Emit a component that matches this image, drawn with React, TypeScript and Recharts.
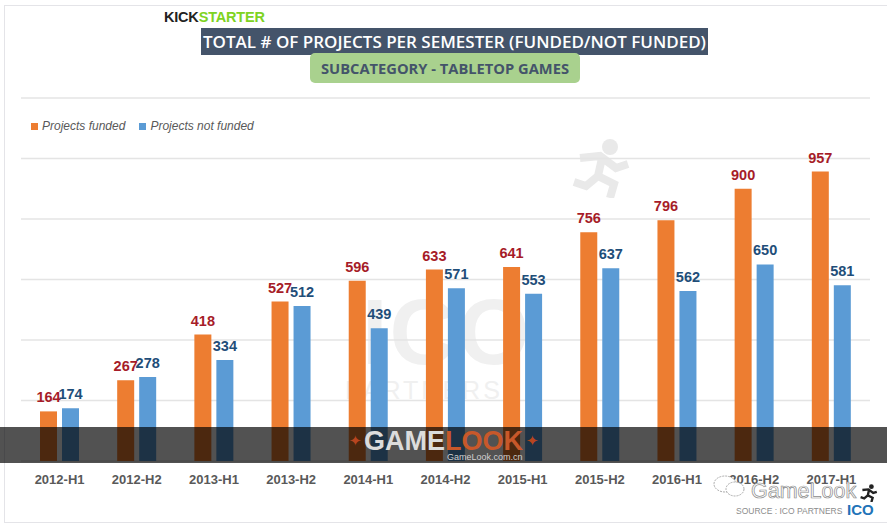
import { Bar, BarChart, CartesianGrid, LabelList, Legend, XAxis, YAxis } from "recharts"

const periods = ["2012-H1", "2012-H2", "2013-H1", "2013-H2", "2014-H1", "2014-H2", "2015-H1", "2015-H2", "2016-H1", "2016-H2", "2017-H1"]
const funded = [164, 267, 418, 527, 596, 633, 641, 756, 796, 900, 957]
const notFunded = [174, 278, 334, 512, 439, 571, 553, 637, 562, 650, 581]
const yTicks = [0, 200, 400, 600, 800, 1000, 1200]

const data = periods.map((period, i) => ({ period, funded: funded[i], notFunded: notFunded[i] }))

const sans = "'Liberation Sans', Arial, sans-serif"
const titleFont = "'Open Sans', 'Noto Sans', sans-serif"

function Runner({ x, y, size, color }: { x: number; y: number; size: number; color: string }) {
  return (
    <svg style={{ position: "absolute", left: x, top: y }} width={size} height={size} viewBox="0 0 60 60">
      <circle cx="38" cy="9" r="8" fill={color} />
      <path d="M8 20 L28 18 L44 30 L56 26 M30 20 L26 38 L42 46 L38 60 M26 38 L14 48 L2 44" fill="none" stroke={color} strokeWidth="8" />
    </svg>
  )
}

export default function App() {
  return (
    <div style={{ position: "absolute", left: 0, top: 0, width: 887, height: 525, background: "#fff", overflow: "hidden" }}>
      <div style={{ position: "absolute", left: 4, top: 5, width: 890, height: 516, border: "1px solid #e4e4e8" }} />

      {/* faint watermark behind the bars */}
      <Runner x={572} y={138} size={60} color="#e9e9e9" />
      <div style={{ position: "absolute", left: 362, top: 290, fontFamily: sans, fontWeight: 700, fontSize: 92, lineHeight: "84px", color: "#f0f0f0", letterSpacing: 2 }}>ICO</div>
      <div style={{ position: "absolute", left: 345, top: 376, fontFamily: sans, fontSize: 25, lineHeight: "28px", color: "#f0f0f0", letterSpacing: 3 }}>PARTNERS</div>

      <div style={{ position: "absolute", left: 0, top: 0 }}>
        <BarChart
          width={887}
          height={525}
          data={data}
          barSize={17}
          barGap={5}
          margin={{ top: 82, right: 17, bottom: 0, left: 21 }}
        >
          <CartesianGrid vertical={false} stroke="#e4e4e4" strokeWidth={1.5} />
          <XAxis
            dataKey="period"
            axisLine={false}
            tickLine={false}
            interval={0}
            height={64}
            tick={{ fill: "#595959", fontFamily: sans, fontSize: 13, fontWeight: 700 }}
            tickMargin={8}
          />
          <YAxis hide domain={[0, 1200]} ticks={yTicks} />
          <Legend
            verticalAlign="top"
            align="left"
            iconType="square"
            iconSize={7}
            wrapperStyle={{ position: "absolute", left: 31, top: 119, width: 280, height: 16, fontFamily: sans, fontSize: 12, fontStyle: "italic", lineHeight: "14px" }}
            formatter={(value) => <span style={{ color: "#595959", marginRight: 4 }}>{value}</span>}
          />
          <Bar dataKey="funded" name="Projects funded" fill="#ed7d31" isAnimationActive={false}>
            <LabelList dataKey="funded" position="top" offset={9} fill="#a61c28" fontFamily={sans} fontSize={14.5} fontWeight={700} />
          </Bar>
          <Bar dataKey="notFunded" name="Projects not funded" fill="#5b9bd5" isAnimationActive={false}>
            <LabelList dataKey="notFunded" position="top" offset={9} fill="#1f4e79" fontFamily={sans} fontSize={14.5} fontWeight={700} />
          </Bar>
        </BarChart>
      </div>

      {/* header */}
      <div style={{ position: "absolute", left: 164, top: 9, fontFamily: sans, fontWeight: 700, fontSize: 14.5, lineHeight: "17px", letterSpacing: -0.2, whiteSpace: "nowrap" }}>
        <span style={{ color: "#222" }}>KICK</span>
        <span style={{ color: "#7ed321" }}>STARTER</span>
      </div>
      <div style={{ position: "absolute", left: 201, top: 28, width: 507, height: 27, background: "#44546a", color: "#fff", fontFamily: titleFont, fontWeight: 600, fontSize: 17, lineHeight: "27px", textAlign: "center", whiteSpace: "nowrap" }}>
        TOTAL # OF PROJECTS PER SEMESTER (FUNDED/NOT FUNDED)
      </div>
      <div style={{ position: "absolute", left: 310, top: 53, width: 270, height: 30, background: "#a9d18e", borderRadius: 5, color: "#44546a", fontFamily: titleFont, fontWeight: 700, fontSize: 14.7, lineHeight: "30px", textAlign: "center", whiteSpace: "nowrap" }}>
        SUBCATEGORY - TABLETOP GAMES
      </div>

      {/* GameLook band over the bars */}
      <div style={{ position: "absolute", left: 0, top: 427, width: 887, height: 36, background: "rgba(0,0,0,0.68)" }} />
      <div style={{ position: "absolute", left: 364, top: 429, fontFamily: sans, fontWeight: 700, fontSize: 27, lineHeight: "24px", whiteSpace: "nowrap" }}>
        <span style={{ color: "#dcdcdc" }}>GAME</span>
        <span style={{ color: "#c8582a" }}>LOOK</span>
      </div>
      <div style={{ position: "absolute", left: 447, top: 453, fontFamily: sans, fontSize: 9, lineHeight: "9px", color: "#d0d0d0", whiteSpace: "nowrap" }}>GameLook.com.cn</div>
      <div style={{ position: "absolute", left: 349, top: 432, color: "#b8451f", fontFamily: sans, fontSize: 15 }}>✦</div>
      <div style={{ position: "absolute", left: 526, top: 432, color: "#b8451f", fontFamily: sans, fontSize: 15 }}>✦</div>

      {/* footer */}
      <svg style={{ position: "absolute", left: 711, top: 474 }} width={36} height={26} viewBox="0 0 36 26">
        <ellipse cx="14" cy="10" rx="11" ry="8" fill="#fff" stroke="#aaa" strokeWidth="1" strokeDasharray="2 1" />
        <ellipse cx="24" cy="15" rx="9" ry="7" fill="#fff" stroke="#aaa" strokeWidth="1" strokeDasharray="2 1" />
      </svg>
      <div style={{ position: "absolute", left: 751, top: 479, fontFamily: sans, fontSize: 21.5, lineHeight: "24px", color: "#fff", WebkitTextStroke: "0.7px #8a8a8a", whiteSpace: "nowrap" }}>GameLook</div>
      <Runner x={860} y={484} size={18} color="#222" />
      <div style={{ position: "absolute", left: 736, top: 505, fontFamily: sans, fontSize: 8.5, lineHeight: "12px", color: "#8c8c8c", whiteSpace: "nowrap" }}>SOURCE : ICO PARTNERS</div>
      <div style={{ position: "absolute", left: 847, top: 501, fontFamily: sans, fontWeight: 700, fontSize: 15, lineHeight: "18px", color: "#1f74b8" }}>ICO</div>
    </div>
  )
}
